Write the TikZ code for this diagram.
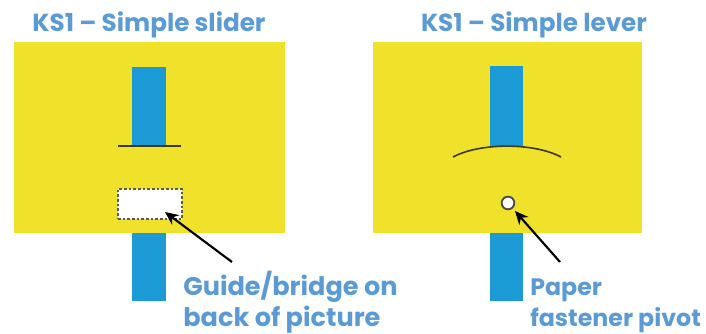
\documentclass[tikz,border=0pt]{standalone}
\usepackage{fontspec}
\setmainfont{Poppins}
\usetikzlibrary{arrows.meta}
\definecolor{panel}{HTML}{F0E22A}
\definecolor{strip}{HTML}{1B9AD6}
\definecolor{txtblue}{HTML}{5B9BD5}
\definecolor{darkline}{HTML}{3A3A20}
\tikzset{
  panelbox/.style={fill=panel, draw=none},
  stripbox/.style={fill=strip, draw=none},
  title/.style={text=txtblue, font=\fontsize{18.5}{22}\selectfont\bfseries, inner sep=0pt},
  label/.style={text=txtblue, font=\fontsize{19.2}{23}\selectfont\bfseries, inner sep=0pt, anchor=base west},
  rlabel/.style={label, font=\fontsize{17.8}{22}\selectfont\bfseries},
  pointer/.style={draw=black, line width=1.6pt, -{Stealth[length=10pt,width=9pt]}},
}
\begin{document}
\begin{tikzpicture}[x=0.75pt,y=-0.75pt]
\useasboundingbox (0,0) rectangle (706,333);
% panels
\fill[panelbox] (14,42) rectangle (285,233);
\fill[panelbox] (373,42) rectangle (642,233);
% strips
\fill[stripbox] (132,67) rectangle (166,146);
\fill[stripbox] (132,233) rectangle (166,301);
\fill[stripbox] (490,66) rectangle (523,146);
\fill[stripbox] (490,233) rectangle (523,301);
% slider line
\draw[darkline, line width=1.2pt] (118,146) -- (181,146);
% lever arc
\draw[darkline, line width=1.2pt] (453,157) .. controls (480,142.5) and (534,142.5) .. (561,157);
% guide
\node[draw=black!65, dashed, dash pattern=on 2pt off 1.5pt, line width=0.9pt, fill=white, minimum width=48pt, minimum height=22.5pt, inner sep=0pt] (guide) at (150,204) {};
% pivot
\node[circle, draw=black!70, line width=1.4pt, fill=white, minimum size=9.5pt, inner sep=0pt] (pivot) at (508,203) {};
% titles
\node[title, anchor=base] (t1) at (149,31) {KS1 – Simple slider};
\node[title, anchor=base] (t2) at (534,31) {KS1 – Simple lever};
% labels
\node[label] (g1) at (183,295) {Guide/bridge on};
\node[label] (g2) at (183,326) {back of picture};
\node[rlabel] (p1) at (530,295) {Paper};
\node[rlabel] (p2) at (530,326) {fastener pivot};
% arrows
\coordinate (ga) at (232,262);
\coordinate (gh) at (165,212);
\coordinate (pa) at (560,262);
\coordinate (ph) at (515,211);
\draw[pointer] (ga) -- (gh);
\draw[pointer] (pa) -- (ph);
\end{tikzpicture}
\end{document}
